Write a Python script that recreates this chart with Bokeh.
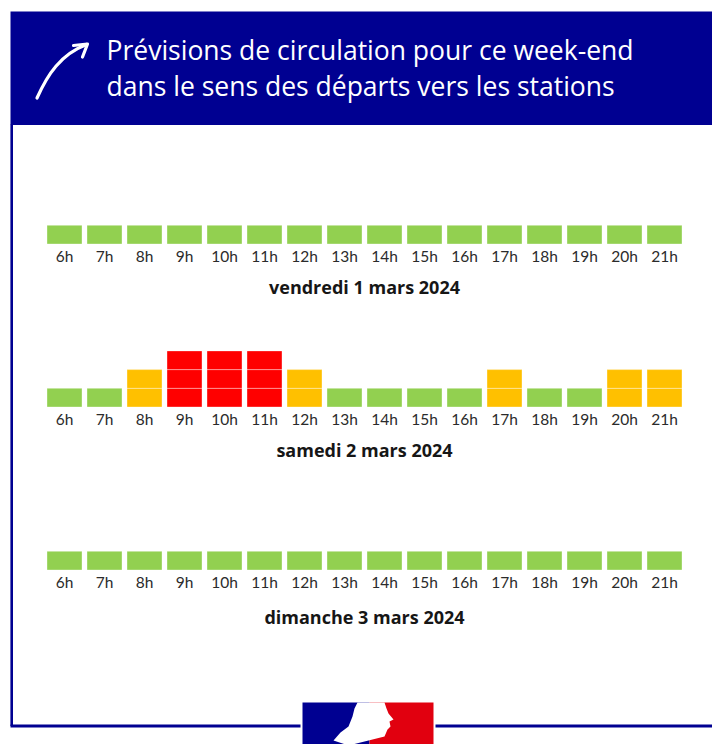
from bokeh.plotting import figure
from bokeh.models import Range1d, ColumnDataSource
from bokeh.core.properties import value
from bokeh.embed import file_html
from bokeh.resources import INLINE

# ---------------- data ----------------
title_lines = ["Prévisions de circulation pour ce week-end",
               "dans le sens des départs vers les stations"]
hours = [6, 7, 8, 9, 10, 11, 12, 13, 14, 15, 16, 17, 18, 19, 20, 21]
hour_labels = ["6h", "7h", "8h", "9h", "10h", "11h", "12h", "13h",
               "14h", "15h", "16h", "17h", "18h", "19h", "20h", "21h"]
days = ["vendredi 1 mars 2024", "samedi 2 mars 2024", "dimanche 3 mars 2024"]
# traffic level: 1 = fluide (vert), 2 = difficile (orange), 3 = très difficile (rouge)
vendredi = [1, 1, 1, 1, 1, 1, 1, 1, 1, 1, 1, 1, 1, 1, 1, 1]
samedi   = [1, 1, 2, 3, 3, 3, 2, 1, 1, 1, 1, 2, 1, 1, 2, 2]
dimanche = [1, 1, 1, 1, 1, 1, 1, 1, 1, 1, 1, 1, 1, 1, 1, 1]
day_levels = [vendredi, samedi, dimanche]

# ---------------- style / layout ----------------
COLORS = {1: "#92D050", 2: "#FFC000", 3: "#FF0000"}
BLUE = "#000091"
W, H = 712, 744
LVL = 18.7                        # pixels per level
ROW_BASE = [243.5, 406.5, 569.5]  # page pixel of each row's baseline
DATE_OFF = [-2.3, -2.3, -2.5]
BAR_W = 0.875

p = figure(width=W, height=H, output_backend="svg", toolbar_location=None,
           x_range=Range1d(4.4, 22.2), y_range=Range1d(H, 0),
           min_border=0, outline_line_color=None, background_fill_color="white",
           border_fill_color="white")
p.axis.visible = False
p.grid.visible = False
p.extra_x_ranges = {"px": Range1d(0, W)}
for k, b in enumerate(ROW_BASE):
    p.extra_y_ranges[f"row{k}"] = Range1d((b - H) / LVL, b / LVL)

# ---- header ----
p.quad(left=[10], right=[W], top=[11], bottom=[124.5], fill_color=BLUE,
       line_color=None, x_range_name="px")
p.text(x=[106, 106], y=[49, 85], text=title_lines, x_range_name="px",
       text_font=value("Open Sans"), text_font_size="26.5px", text_color="white",
       text_baseline="alphabetic", text_align="left")
# arrow
p.bezier(x0=[36.5], y0=[97.5], x1=[86], y1=[44], cx0=[47], cy0=[74],
         cx1=[60], cy1=[54], line_color="white", line_width=3.2,
         line_cap="round", x_range_name="px")
p.multi_line(xs=[[73, 87, 82]], ys=[[45, 43.5, 56.5]], line_color="white",
             line_width=3.2, line_cap="round", line_join="round", x_range_name="px")

# ---- frame ----
p.line(x=[11.2, 11.2], y=[124, 725.5], line_color=BLUE, line_width=2.6,
       x_range_name="px")
p.line(x=[10, W], y=[725.5, 725.5], line_color=BLUE, line_width=3,
       x_range_name="px")

# ---- bars ----
for k, (levels, day) in enumerate(zip(day_levels, days)):
    left, right, bottom, top, color = [], [], [], [], []
    for h, lv in zip(hours, levels):
        for j in range(1, lv + 1):
            left.append(h - BAR_W / 2)
            right.append(h + BAR_W / 2)
            bottom.append(j - 1)
            top.append(j)
            color.append(COLORS[lv])
    src = ColumnDataSource(dict(left=left, right=right, bottom=bottom, top=top, color=color))
    p.quad(left="left", right="right", bottom="bottom", top="top", source=src,
           fill_color="color", line_color="white", line_alpha=0.35, line_width=1,
           y_range_name=f"row{k}")
    p.text(x=hours, y=[-0.62] * len(hours), text=hour_labels, y_range_name=f"row{k}",
           text_font=value("Lato"), text_font_size="15.5px", text_color="#2b2b2b",
           text_align="center", text_baseline="middle")
    p.text(x=[(hours[0] + hours[-1]) / 2], y=[DATE_OFF[k]], text=[day],
           y_range_name=f"row{k}",
           text_font=value("Open Sans"), text_font_size="18px", text_font_style="bold",
           text_color="#161616", text_align="center", text_baseline="middle")

# ---- logo (Marianne block) ----
p.quad(left=[300], right=[435], top=[700], bottom=[H], fill_color="white",
       line_color=None, x_range_name="px")
p.quad(left=[302], right=[369], top=[702], bottom=[H], fill_color=BLUE,
       line_color=None, x_range_name="px")
p.quad(left=[369], right=[433], top=[702], bottom=[H], fill_color="#E1000F",
       line_color=None, x_range_name="px")
p.patch(x=[357, 384, 386, 388, 393, 389, 390, 387, 384, 352, 345, 333, 340, 348, 352, 354],
        y=[702, 702, 708, 713, 719, 721, 726, 729, 736, 744, 744, 740, 732, 726, 716, 708],
        fill_color="white", line_color=None, x_range_name="px")

open("out.html", "w").write(file_html(p, INLINE))
